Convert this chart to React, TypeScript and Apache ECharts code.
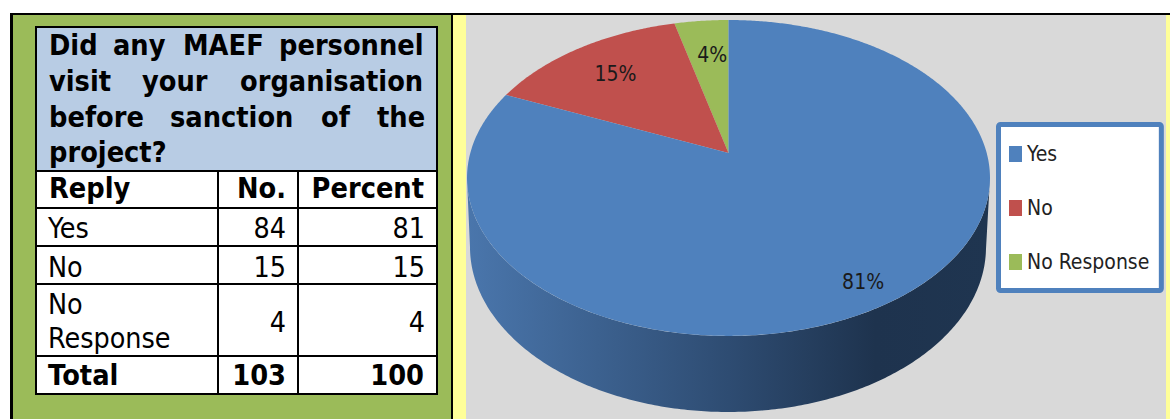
import React, { useEffect, useRef } from "react";
import * as echarts from "echarts";

const replies = ["Yes", "No", "No Response"];
const counts = [84, 15, 4];
const percents = [81, 15, 4];
const sliceColors = ["#4F81BD", "#C0504D", "#9BBB59"];

const headerLines = [
  ["Did", "any", "MAEF", "personnel"],
  ["visit", "your", "organisation"],
  ["before", "sanction", "of", "the"],
  ["project?"],
];
const headerWordX = [
  [49, 113, 183, 279],
  [49, 142, 240],
  [49, 170, 321, 377],
  [49],
];
const headerBaselines = [56, 92, 128, 163];
const columnTitles = ["Reply", "No.", "Percent"];
const totalRow = ["Total", "103", "100"];

const W = 1170;
const H = 419;
const CX = 728.5;
const CY = 153;
const RX = 258.2;
const RY = 154;
const PERSP = 0.158;
const total = counts.reduce((a, b) => a + b, 0);
const labelReach = [0.89, 0.76, 0.72];
const labelShiftX = [-8, 3, 4];
const labelShiftY = [-1, 3, 1];

// Tilted-disc projection: angle is measured clockwise from the top of the pie.
function project(angle: number, reach = 1) {
  const u = Math.sin(angle) * reach;
  const v = -Math.cos(angle) * reach;
  const d = 1 - PERSP * v;
  return [CX + (RX * u) / d, CY + (RY * v) / d];
}

function sidePoints() {
  const pts: number[][] = [];
  for (let t = Math.PI; t >= 0; t -= Math.PI / 240) {
    pts.push([728 + 258 * Math.cos(t), 247 + 165 * Math.sin(t)]);
  }
  for (let t = 0; t <= Math.PI; t += Math.PI / 240) {
    pts.push([728.5 + 261.5 * Math.cos(t), 178 + 158 * Math.sin(t)]);
  }
  return pts;
}

const CELL_FONT = "'DejaVu Sans Condensed', 'DejaVu Sans', sans-serif";
const BOLD_FONT = "'DejaVu Sans', sans-serif";
const BOLD_SIZE = 28;
const BOLD_SQUEEZE = 0.92;
const CELL_SIZE = 28.4;

function txt(text: string, x: number, base: number, size: number, bold: boolean, align = "left") {
  return {
    type: "text",
    z: 5,
    silent: true,
    x,
    y: base,
    scaleX: bold ? BOLD_SQUEEZE : 1,
    style: {
      text,
      fill: "#000",
      fontSize: size,
      fontWeight: bold ? "bold" : "normal",
      fontFamily: bold ? BOLD_FONT : CELL_FONT,
      align,
      textAlign: align,
      verticalAlign: "bottom",
      textVerticalAlign: "bottom",
    },
  };
}

function box(x: number, y: number, width: number, height: number, fill: string, z = 1) {
  return { type: "rect", z, silent: true, shape: { x, y, width, height }, style: { fill } };
}

function buildGraphics() {
  const els: any[] = [];
  els.push(box(10, 13, 443, 406, "#9BBB59"));
  els.push(box(453, 13, 717, 406, "#FFFF99"));
  els.push(box(466, 15, 700, 404, "#D9D9D9", 2));
  els.push(box(10, 13, 1160, 2, "#000", 4));
  els.push(box(10, 13, 3, 406, "#000", 4));
  els.push(box(451, 13, 2, 406, "#000", 4));

  els.push(box(35, 26, 403, 369, "#000", 2));
  els.push(box(37, 28, 399, 142, "#B8CCE4", 3));
  const rowEdges = [172, 209, 247, 285, 357, 393];
  const colEdges = [37, 219, 299, 436];
  for (let r = 0; r < rowEdges.length - 1; r++) {
    for (let c = 0; c < colEdges.length - 1; c++) {
      els.push(
        box(colEdges[c], rowEdges[r], colEdges[c + 1] - colEdges[c] - (c < 2 ? 2 : 0), rowEdges[r + 1] - rowEdges[r] - (r < 4 ? 2 : 0), "#FFF", 3)
      );
    }
  }

  const off = 3;
  headerLines.forEach((line, i) =>
    line.forEach((w, j) => els.push(txt(w, headerWordX[i][j], headerBaselines[i] + off, BOLD_SIZE, true)))
  );
  els.push(txt(columnTitles[0], 49, 199 + off, BOLD_SIZE, true));
  els.push(txt(columnTitles[1], 286, 199 + off, BOLD_SIZE, true, "right"));
  els.push(txt(columnTitles[2], 424, 199 + off, BOLD_SIZE, true, "right"));

  const base = [237, 276, 331];
  const cellOff = 5;
  els.push(txt(replies[0], 48, base[0] + cellOff, CELL_SIZE, false));
  els.push(txt(replies[1], 48, base[1] + cellOff, CELL_SIZE, false));
  const [first, second] = replies[2].split(" ");
  els.push(txt(first, 48, 313 + cellOff, CELL_SIZE, false));
  els.push(txt(second, 48, 347 + cellOff, CELL_SIZE, false));
  counts.forEach((n, i) => {
    els.push(txt(String(n), 286, base[i] + cellOff, CELL_SIZE, false, "right"));
    els.push(txt(String(percents[i]), 425, base[i] + cellOff, CELL_SIZE, false, "right"));
  });
  els.push(txt(totalRow[0], 48, 386 + off, BOLD_SIZE, true));
  els.push(txt(totalRow[1], 286, 386 + off, BOLD_SIZE, true, "right"));
  els.push(txt(totalRow[2], 424, 386 + off, BOLD_SIZE, true, "right"));
  return els;
}

function sliceSeries(index: number) {
  // Slices end where the later ones begin; the last one touches the top on the left.
  const after = counts.slice(index + 1).reduce((a, b) => a + b, 0);
  const a1 = -(after / total) * Math.PI * 2;
  return {
    name: replies[index],
    type: "custom",
    coordinateSystem: "none",
    silent: true,
    z: 10 - index,
    itemStyle: { color: sliceColors[index] },
    data: [[counts[index]]],
    renderItem: (_p: any, api: any) => {
      const sweep = (api.value(0) / total) * Math.PI * 2;
      const a0 = a1 - sweep;
      const pts: number[][] = [[CX, CY]];
      const steps = Math.max(8, Math.ceil(sweep * 120));
      for (let s = 0; s <= steps; s++) pts.push(project(a0 + (sweep * s) / steps));
      const at = project(a0 + sweep / 2, labelReach[index]);
      const children: any[] = [];
      if (index === 0) {
        children.push({
          type: "polygon",
          shape: { points: sidePoints() },
          style: {
            fill: new echarts.graphic.LinearGradient(0, 0, 1, 0, [
              { offset: 0, color: "#4A76AC" },
              { offset: 0.5, color: "#2E4C72" },
              { offset: 0.78, color: "#1E334E" },
              { offset: 1, color: "#1F3550" },
            ]),
          },
        });
      }
      children.push({ type: "polygon", shape: { points: pts }, style: { fill: sliceColors[index] } });
      children.push({
        type: "text",
        x: at[0] + labelShiftX[index],
        y: at[1] + labelShiftY[index],
        z2: 20,
        style: {
          text: `${percents[index]}%`,
          fontFamily: CELL_FONT,
          fontSize: 21,
          fill: "#1A1A1A",
          align: "center",
          textAlign: "center",
          verticalAlign: "middle",
          textVerticalAlign: "middle",
        },
      });
      return { type: "group", children };
    },
  };
}

export default function App() {
  const ref = useRef<HTMLDivElement | null>(null);
  useEffect(() => {
    document.body.style.margin = "0";
    document.body.style.background = "#fff";
    const chart = echarts.init(ref.current!, null, { renderer: "svg", width: W, height: H });
    chart.setOption({
      animation: false,
      backgroundColor: "#FFFFFF",
      graphic: { elements: buildGraphics() },
      legend: {
        orient: "vertical",
        left: 998.5,
        top: 124.5,
        data: replies,
        icon: "rect",
        itemWidth: 13,
        itemHeight: 16,
        itemGap: 33,
        selectedMode: false,
        padding: [19, 12, 18, 10.5],
        backgroundColor: "#FFFFFF",
        borderColor: "#4F81BD",
        borderWidth: 5,
        borderRadius: 2,
        textStyle: { fontFamily: CELL_FONT, fontSize: 21, lineHeight: 16, color: "#222" },
      },
      series: replies.map((_, i) => sliceSeries(i)),
    });
    return () => chart.dispose();
  }, []);
  return <div ref={ref} style={{ width: W, height: H, overflow: "hidden" }} />;
}
